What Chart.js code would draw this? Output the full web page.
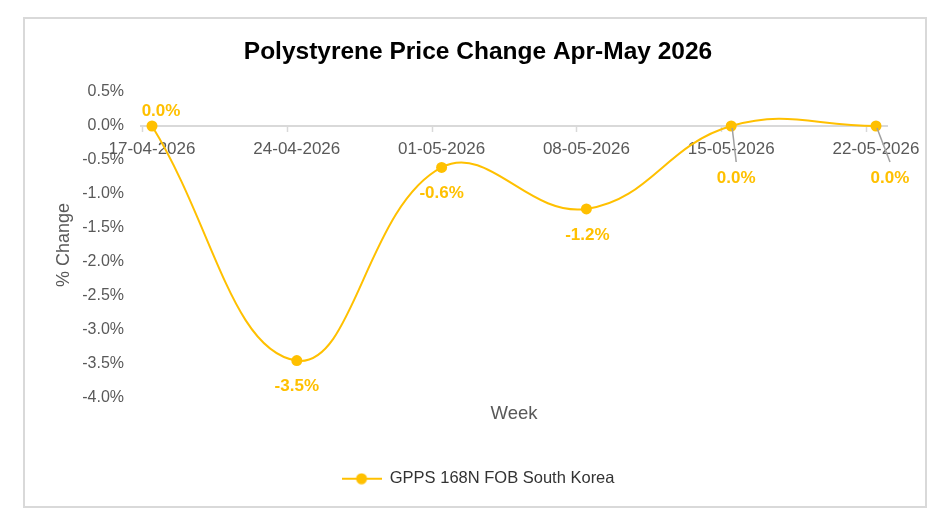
<!DOCTYPE html>
<html><head><meta charset="utf-8">
<script src="https://cdn.jsdelivr.net/npm/chart.js@4.4.1/dist/chart.umd.min.js"></script>
<style>
html,body{margin:0;padding:0;background:#fff;}
#wrap{position:relative;width:943px;height:526px;}
#frame{position:absolute;left:23px;top:17px;width:900px;height:487px;border:2px solid #d9d9d9;}
canvas{position:absolute;left:0;top:0;}
</style></head><body>
<div id="wrap"><div id="frame"></div><canvas id="c" width="943" height="526"></canvas></div>
<script>
// ---- data ----
const chartTitle = 'Polystyrene Price Change Apr-May 2026';
const xAxisTitle = 'Week';
const yAxisTitle = '% Change';
const weeks = ['17-04-2026','24-04-2026','01-05-2026','08-05-2026','15-05-2026','22-05-2026'];
const seriesName = 'GPPS 168N FOB South Korea';
const pctChange = [0.0, -3.45, -0.61, -1.22, 0.0, 0.0];
const yMin = -4.0, yMax = 0.5, yStep = 0.5;

// ---- styles ----
const AMBER = '#FFC000';
const GREY_TXT = '#595959';
const AXIS_GREY = '#d9d9d9';
const FONT = "'Liberation Sans', Arial, sans-serif";
// label placement relative to each point (style, not data)
const labelOffsets = [[9,-15],[0,26],[0,26],[1,26],[5,52],[14,52]];
const leaderLines  = [false,false,false,false,true,true];

// legend marker: line with a dot
const marker = document.createElement('canvas');
marker.width = 40; marker.height = 12;
(function(){
  const m = marker.getContext('2d');
  m.strokeStyle = AMBER; m.lineWidth = 2;
  m.beginPath(); m.moveTo(0,6); m.lineTo(40,6); m.stroke();
  m.fillStyle = AMBER; m.beginPath(); m.arc(20,6,5.5,0,Math.PI*2); m.fill();
})();

const tickMarks = {
  id: 'tickMarks',
  beforeDatasetsDraw(chart) {
    const x = chart.scales.x, y = chart.scales.y, ctx = chart.ctx;
    const y0 = y.getPixelForValue(0);
    ctx.save();
    ctx.strokeStyle = AXIS_GREY; ctx.lineWidth = 1.5;
    weeks.forEach((w, i) => {
      const px = Math.round(x.getPixelForValue(i) - 10) + 0.5;
      ctx.beginPath(); ctx.moveTo(px, y0); ctx.lineTo(px, y0 + 6); ctx.stroke();
    });
    ctx.restore();
  }
};

const dataLabels = {
  id: 'dataLabels',
  afterDatasetsDraw(chart) {
    const ctx = chart.ctx;
    const meta = chart.getDatasetMeta(0);
    ctx.save();
    meta.data.forEach((pt, i) => {
      const [dx, dy] = labelOffsets[i];
      const lx = pt.x + dx, ly = pt.y + dy;
      if (leaderLines[i]) {
        ctx.strokeStyle = '#a0a0a0'; ctx.lineWidth = 1.5;
        ctx.beginPath(); ctx.moveTo(pt.x + 1, pt.y + 2); ctx.lineTo(lx, ly - 16); ctx.stroke();
      }
      ctx.fillStyle = AMBER;
      ctx.font = "bold 17px " + FONT;
      ctx.textAlign = 'center'; ctx.textBaseline = 'middle';
      ctx.fillText(pctChange[i].toFixed(1) + '%', lx, ly);
    });
    ctx.restore();
  }
};

new Chart(document.getElementById('c'), {
  type: 'line',
  data: {
    labels: weeks,
    datasets: [{
      label: seriesName,
      data: pctChange.map((v, i) => ({x: i, y: v})),
      borderColor: AMBER,
      backgroundColor: AMBER,
      borderWidth: 2,
      pointRadius: 5.5,
      pointHoverRadius: 5.5,
      pointBorderWidth: 0,
      pointBackgroundColor: AMBER,
      tension: 0.42,
      fill: false
    }]
  },
  options: {
    responsive: false,
    animation: false,
    devicePixelRatio: 1,
    layout: { padding: { left: 69, right: 56, top: 0, bottom: 29 } },
    plugins: {
      title: {
        display: true, text: chartTitle, color: '#000',
        font: { family: FONT, size: 24.5, weight: 'bold' },
        padding: { top: 37.5, bottom: 25.1 }
      },
      subtitle: {
        display: true, text: xAxisTitle, position: 'bottom', weight: 500, fullSize: false,
        color: GREY_TXT, font: { family: FONT, size: 18.5, weight: 'normal' },
        padding: { top: 4.5, bottom: 35.8 }
      },
      legend: {
        display: true, position: 'bottom',
        labels: {
          usePointStyle: true, pointStyleWidth: 40, padding: 10,
          color: '#333', font: { family: FONT, size: 16.5 },
          generateLabels: (chart) => [{
            text: seriesName, pointStyle: marker, fillStyle: AMBER, strokeStyle: AMBER,
            lineWidth: 0, hidden: false, datasetIndex: 0, fontColor: '#333'
          }]
        }
      },
      tooltip: { enabled: false }
    },
    scales: {
      x: {
        type: 'linear',
        position: { y: 0 },
        min: -0.076, max: weeks.length - 1 + 0.076,
        afterBuildTicks: (s) => { s.ticks = weeks.map((w, i) => ({ value: i })); },
        ticks: {
          autoSkip: false, maxRotation: 0, padding: 13,
          color: GREY_TXT, font: { family: FONT, size: 17 },
          callback: (v) => weeks[v] !== undefined ? weeks[v] : ''
        },
        grid: { display: false, drawTicks: false },
        border: { display: true, color: AXIS_GREY, width: 2 }
      },
      y: {
        min: yMin, max: yMax,
        afterFit: (s) => { s.width = 72; },
        ticks: {
          stepSize: yStep, padding: 17,
          color: GREY_TXT, font: { family: FONT, size: 16 },
          callback: (v) => v.toFixed(1) + '%'
        },
        grid: { display: false, drawTicks: false },
        border: { display: false },
        title: {
          display: true, text: yAxisTitle, color: GREY_TXT,
          font: { family: FONT, size: 18 },
          padding: { top: -16, bottom: 0 }
        }
      }
    }
  },
  plugins: [tickMarks, dataLabels]
});
</script>
</body></html>
